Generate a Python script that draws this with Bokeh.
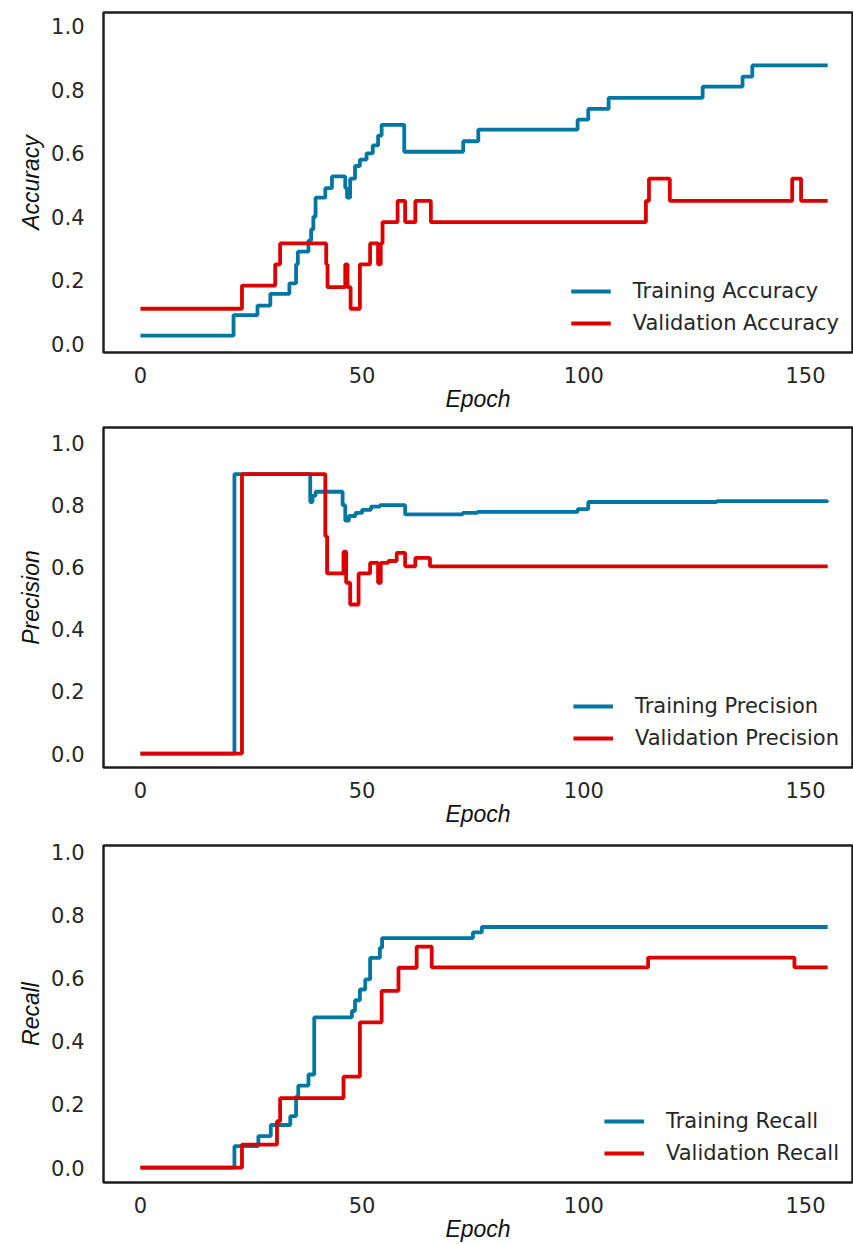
from bokeh.plotting import figure
from bokeh.layouts import column
from bokeh.models import Range1d, FixedTicker, PrintfTickFormatter
from bokeh.embed import file_html
from bokeh.resources import INLINE

# ---------------- data (change points: epoch, value) ----------------
acc_train_ep = [0, 21, 26.4, 29.3, 33.6, 35.1, 35.5, 37.9, 38.5, 39, 39.5, 41.7, 43.2, 46.2, 46.6, 47.3,
                48.4, 49.5, 51, 52.4, 53.6, 54.4, 59.5, 72.8, 76.2, 98.6, 101, 105.6, 126.8, 135.8, 138, 155]
acc_train = [0.025, 0.09, 0.12, 0.157, 0.19, 0.25, 0.29, 0.325, 0.36, 0.40, 0.46, 0.49, 0.527, 0.49, 0.46, 0.52,
             0.56, 0.58, 0.60, 0.625, 0.656, 0.69, 0.605, 0.638, 0.675, 0.706, 0.74, 0.775, 0.81, 0.842, 0.877, 0.877]
acc_val_ep = [0, 22.9, 30.4, 31.5, 41.9, 42.2, 46.2, 46.7, 47.4, 49.5, 51.8, 53.6, 54.2, 54.6, 58, 59.7,
              62, 65.5, 114, 114.7, 119.4, 147, 149, 155]
acc_val = [0.11, 0.183, 0.25, 0.316, 0.25, 0.178, 0.25, 0.178, 0.11, 0.25, 0.316, 0.25, 0.316, 0.383, 0.45, 0.383,
           0.45, 0.383, 0.45, 0.52, 0.45, 0.52, 0.45, 0.45]

prec_train_ep = [0, 21.2, 38.3, 38.8, 39.5, 45.6, 46.2, 47, 48.5, 50, 52, 54, 59.7, 72.7, 76, 98.6, 101, 130, 155]
prec_train = [0, 0.90, 0.81, 0.83, 0.843, 0.80, 0.75, 0.765, 0.775, 0.785, 0.795, 0.80, 0.77, 0.775, 0.778,
              0.787, 0.81, 0.813, 0.815]
prec_val_ep = [0, 22.9, 41.7, 42.1, 45.8, 46.4, 47.3, 49.2, 51.8, 53.6, 54.2, 55.9, 57.8, 59.7, 62, 65.3, 155]
prec_val = [0, 0.90, 0.70, 0.58, 0.65, 0.55, 0.48, 0.58, 0.614, 0.55, 0.614, 0.62, 0.646, 0.603, 0.63, 0.603, 0.603]

rec_train_ep = [0, 21.2, 26.6, 29.4, 33.8, 35.1, 35.6, 37.9, 39.2, 47.7, 48.4, 49.5, 50.7, 51.8, 54, 54.5,
                75, 77, 155]
rec_train = [0, 0.068, 0.10, 0.135, 0.163, 0.225, 0.26, 0.295, 0.476, 0.496, 0.53, 0.564, 0.596, 0.664, 0.696,
             0.727, 0.745, 0.762, 0.762]
rec_val_ep = [0, 22.9, 30.8, 31.5, 45.8, 49.5, 54.4, 58.2, 62.3, 65.7, 114.5, 147.5, 155]
rec_val = [0, 0.073, 0.147, 0.22, 0.288, 0.46, 0.56, 0.633, 0.70, 0.634, 0.665, 0.634, 0.634]

x_ticks = [0, 50, 100, 150]
y_ticks = [0.0, 0.2, 0.4, 0.6, 0.8, 1.0]

BLUE = "#0077a3"
RED = "#dc0000"
TXT = "#262626"


def make_panel(name, tr_x, tr_y, va_x, va_y, height, bottom, yr):
    p = figure(width=853, height=height, output_backend="svg", toolbar_location=None,
               x_range=Range1d(-8.33, 160.6), y_range=Range1d(*yr),
               min_border_left=103, min_border_right=1, min_border_top=12, min_border_bottom=bottom,
               background_fill_color="white", border_fill_color="white")
    p.step(tr_x, tr_y, mode="after", line_width=3.8, color=BLUE, legend_label="Training " + name)
    p.step(va_x, va_y, mode="after", line_width=3.8, color=RED, legend_label="Validation " + name)
    p.grid.visible = False
    p.outline_line_color = "#1e1e1e"
    p.outline_line_width = 2.5
    for ax in (p.xaxis[0], p.yaxis[0]):
        ax.axis_line_color = None
        ax.major_tick_line_color = None
        ax.minor_tick_line_color = None
        ax.major_label_text_font = "DejaVu Sans"
        ax.major_label_text_font_size = "21px"
        ax.major_label_text_color = TXT
        ax.axis_label_text_font = "Liberation Sans"
        ax.axis_label_text_font_style = "italic"
        ax.axis_label_text_font_size = "23px"
        ax.axis_label_text_color = "#111111"
    p.xaxis.ticker = FixedTicker(ticks=x_ticks)
    p.yaxis.ticker = FixedTicker(ticks=y_ticks)
    p.yaxis.formatter = PrintfTickFormatter(format="%.1f")
    p.xaxis.axis_label = "Epoch"
    p.yaxis.axis_label = name
    p.xaxis.major_label_standoff = 8
    p.xaxis.axis_label_standoff = 0
    p.yaxis.major_label_standoff = 13
    p.yaxis.axis_label_standoff = 4
    lg = p.legend[0]
    lg.location = "bottom_right"
    lg.border_line_color = None
    lg.background_fill_alpha = 0
    lg.label_text_font = "DejaVu Sans"
    lg.label_text_font_size = "21px"
    lg.label_text_color = TXT
    lg.glyph_width = 40
    lg.glyph_height = 32
    lg.label_height = 32
    lg.label_standoff = 22
    lg.spacing = 0
    lg.padding = 3
    lg.margin = 13
    return p


p1 = make_panel("Accuracy", acc_train_ep, acc_train, acc_val_ep, acc_val, 415, 63, (-0.028, 1.044))
p2 = make_panel("Precision", prec_train_ep, prec_train, prec_val_ep, prec_val, 418, 66, (-0.045, 1.05))
p3 = make_panel("Recall", rec_train_ep, rec_train, rec_val_ep, rec_val, 411, 59, (-0.047, 1.02))

layout = column(p1, p2, p3, spacing=0)
open("out.html", "w").write(file_html(layout, INLINE))
